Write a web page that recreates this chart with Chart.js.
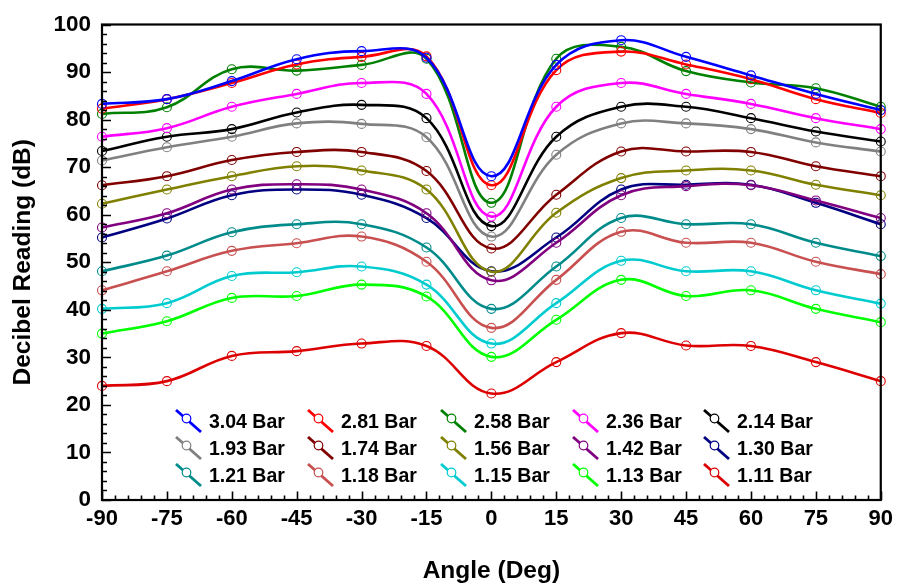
<!DOCTYPE html>
<html>
<head>
<meta charset="utf-8">
<script src="https://cdn.jsdelivr.net/npm/chart.js@4.4.1/dist/chart.umd.min.js"></script>
<style>
  html, body { margin: 0; padding: 0; background: #fff; }
  #wrap { position: relative; width: 899px; height: 583px; }
  #c { position: absolute; left: 0; top: 0; }
  .lg { position: absolute; height: 24px; display: flex; align-items: center;
        font-family: "Liberation Sans", Arial, sans-serif; font-weight: bold; font-size: 19.5px; color: #000; white-space: nowrap; }
  .lg svg { margin-right: 7px; }
</style>
</head>
<body>
<div id="wrap">
  <canvas id="c" width="899" height="583"></canvas>
</div>
<script>
// ---- data ----
const angles = [-90, -75, -60, -45, -30, -15, 0, 15, 30, 45, 60, 75, 90];
const seriesLabels = ['3.04 Bar', '2.81 Bar', '2.58 Bar', '2.36 Bar', '2.14 Bar',
                      '1.93 Bar', '1.74 Bar', '1.56 Bar', '1.42 Bar', '1.30 Bar',
                      '1.21 Bar', '1.18 Bar', '1.15 Bar', '1.13 Bar', '1.11 Bar'];
const bar304 = [83.3, 84.3, 88.1, 92.7, 94.4, 93.0, 68.1, 91.5, 96.7, 93.2, 89.3, 85.4, 82.0];
const bar281 = [82.3, 84.3, 87.7, 91.6, 93.2, 93.3, 66.2, 90.4, 94.3, 91.6, 88.5, 84.3, 81.4];
const bar258 = [81.2, 82.6, 90.6, 90.3, 91.5, 92.8, 62.5, 92.8, 95.3, 90.2, 87.8, 86.6, 82.7];
const bar236 = [76.4, 78.2, 82.7, 85.4, 87.7, 85.4, 59.6, 82.7, 87.7, 85.4, 83.3, 80.3, 78.0];
const bar214 = [73.4, 76.4, 78.0, 81.5, 83.1, 80.3, 57.6, 76.4, 82.7, 82.7, 80.3, 77.5, 75.4];
const bar193 = [71.4, 74.2, 76.4, 79.2, 79.1, 76.3, 55.4, 72.6, 79.2, 79.2, 78.0, 75.2, 73.3];
const bar174 = [66.2, 68.1, 71.5, 73.2, 73.2, 69.2, 52.9, 64.2, 73.3, 73.3, 73.2, 70.2, 68.1];
const bar156 = [62.3, 65.3, 68.1, 70.2, 69.3, 65.3, 48.0, 60.4, 67.7, 69.3, 69.3, 66.3, 64.1];
const bar142 = [57.3, 60.3, 65.3, 66.4, 65.3, 60.3, 46.2, 54.1, 64.1, 66.0, 66.2, 63.0, 59.3];
const bar130 = [55.2, 59.2, 64.1, 65.3, 64.2, 59.3, 48.1, 55.2, 65.3, 66.3, 66.3, 62.5, 58.0];
const bar121 = [48.1, 51.4, 56.3, 58.0, 58.0, 53.1, 40.2, 49.1, 59.3, 58.0, 58.0, 54.1, 51.3];
const bar118 = [44.1, 48.1, 52.4, 54.0, 55.4, 50.1, 36.2, 46.3, 56.4, 54.1, 54.1, 50.1, 47.5];
const bar115 = [40.2, 41.4, 47.1, 47.9, 49.1, 45.3, 32.9, 41.4, 50.3, 48.1, 48.1, 44.1, 41.3];
const bar113 = [35.0, 37.6, 42.5, 42.9, 45.3, 42.8, 30.1, 37.9, 46.3, 42.9, 44.1, 40.2, 37.4];
const bar111 = [24.0, 25.0, 30.3, 31.3, 32.9, 32.4, 22.4, 29.0, 35.1, 32.5, 32.4, 29.0, 25.0];
const seriesValues = [bar304, bar281, bar258, bar236, bar214, bar193, bar174, bar156,
                      bar142, bar130, bar121, bar118, bar115, bar113, bar111];
const xTicks = [-90, -75, -60, -45, -30, -15, 0, 15, 30, 45, 60, 75, 90];
const yTicks = [0, 10, 20, 30, 40, 50, 60, 70, 80, 90, 100];

// ---- styles ----
const colors = ['#0000FF', '#FF0000', '#008000', '#FF00FF', '#000000',
                '#808080', '#800000', '#808000', '#800080', '#000080',
                '#008B8B', '#C85050', '#00CCD0', '#00FF00', '#DD0000'];
const FONT = '"Liberation Sans", Arial, sans-serif';

const datasets = seriesValues.map((vals, i) => ({
  label: seriesLabels[i],
  data: angles.map((a, j) => ({ x: a, y: vals[j] })),
  borderColor: colors[i],
  backgroundColor: 'rgba(255,255,255,0)',
  pointBorderColor: colors[i],
  pointBackgroundColor: 'rgba(255,255,255,0)',
  pointRadius: 4.5,
  pointBorderWidth: 1.1,
  borderWidth: 2.6,
  tension: 0.4,
  clip: false
}));

const frameTicks = {
  id: 'frameTicks',
  afterDatasetsDraw(chart) {
    const { ctx, chartArea: a } = chart;
    const xs = chart.scales.x, ys = chart.scales.y;
    ctx.save();
    ctx.strokeStyle = '#000';
    ctx.lineWidth = 1.6;
    ctx.beginPath();
    for (let v = xs.min; v <= xs.max + 1e-9; v += 3) {
      const p = Math.round(xs.getPixelForValue(v)) + 0.5;
      const len = (Math.abs(v) % 15 === 0) ? 8.5 : 4.5;
      ctx.moveTo(p, a.bottom);
      ctx.lineTo(p, a.bottom - len);
    }
    for (let v = ys.min; v <= ys.max + 1e-9; v += 2) {
      const p = Math.round(ys.getPixelForValue(v)) + 0.5;
      const len = (v % 10 === 0) ? 9 : 5;
      ctx.moveTo(a.left, p);
      ctx.lineTo(a.left + len, p);
    }
    ctx.stroke();
    ctx.lineWidth = 2.2;
    ctx.strokeRect(a.left, a.top, a.right - a.left, a.bottom - a.top);
    ctx.restore();
  }
};

new Chart(document.getElementById('c'), {
  type: 'line',
  data: { datasets },
  plugins: [frameTicks],
  options: {
    responsive: false,
    animation: false,
    layout: { padding: { left: 0, right: 16, top: 19, bottom: 0 } },
    plugins: { legend: { display: false }, tooltip: { enabled: false } },
    scales: {
      x: {
        type: 'linear', min: -90, max: 90,
        afterBuildTicks: s => { s.ticks = xTicks.map(v => ({ value: v })); },
        afterFit: s => { s.height = 83; },
        grid: { display: false, drawTicks: false },
        border: { display: false },
        ticks: { padding: 6, color: '#000', font: { family: FONT, size: 22, weight: 'bold' }, maxRotation: 0 },
        title: { display: true, text: 'Angle (Deg)', color: '#000',
                 font: { family: FONT, size: 24.5, weight: 'bold', lineHeight: 1 }, padding: { top: 0, bottom: 0 } }
      },
      y: {
        min: 0, max: 100,
        afterBuildTicks: s => { s.ticks = yTicks.map(v => ({ value: v })); },
        afterFit: s => { s.width = 102; },
        grid: { display: false, drawTicks: false },
        border: { display: false },
        ticks: { padding: 11, color: '#000', font: { family: FONT, size: 22.5, weight: 'bold' } },
        title: { display: true, text: 'Decibel Reading (dB)', color: '#000',
                 font: { family: FONT, size: 24.5, weight: 'bold', lineHeight: 1 }, padding: { top: 10.5, bottom: 0 } }
      }
    }
  }
});

// ---- legend (HTML, inside plot area) ----
const wrap = document.getElementById('wrap');
const colX = [175, 307, 440, 572, 703];
const rowY = [421, 448, 475];
seriesLabels.forEach((lab, i) => {
  const r = Math.floor(i / 5), c = i % 5;
  const d = document.createElement('div');
  d.className = 'lg';
  d.style.left = colX[c] + 'px';
  d.style.top = (rowY[r] - 12) + 'px';
  const col = colors[i];
  d.innerHTML = '<svg width="27" height="24" viewBox="0 0 27 24">' +
    '<line x1="1" y1="1" x2="26" y2="23" stroke="' + col + '" stroke-width="2.8"/>' +
    '<circle cx="11.5" cy="9.5" r="4.3" fill="#fff" stroke="' + col + '" stroke-width="1.2"/>' +
    '</svg><span>' + lab + '</span>';
  wrap.appendChild(d);
});
</script>
</body>
</html>
